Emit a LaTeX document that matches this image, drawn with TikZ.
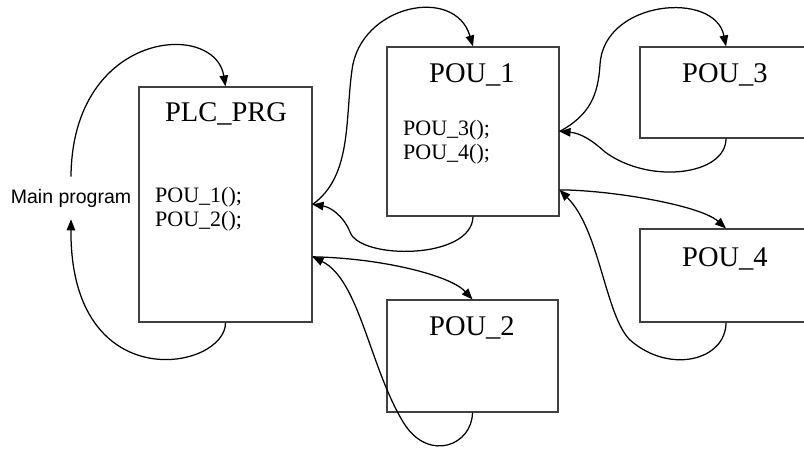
\documentclass[tikz,border=0pt]{standalone}
\usepackage{fontspec}
\setmainfont{Liberation Serif}
\setsansfont{Liberation Sans}
\usetikzlibrary{arrows.meta}

\begin{document}
\begin{tikzpicture}[x=1pt, y=-1pt,
    box/.style={draw=black!75, line width=1.1pt, inner sep=0pt},
    title/.style={font=\fontsize{28.5}{30}\selectfont, anchor=base},
    code/.style={font=\fontsize{22}{24}\selectfont, align=left, anchor=west, inner sep=0pt},
    arr/.style={-{Triangle[length=11pt, width=8.5pt]}, line width=1.25pt},
]
\useasboundingbox (0,0) rectangle (804,448);
\clip (0,0) rectangle (804,448);

% --- boxes ---
\node[box, minimum width=173pt, minimum height=235pt] (plc) at (225.5,204.5) {};
\node[box, minimum width=172pt, minimum height=169pt] (pou1) at (473,131.5) {};
\node[box, minimum width=171pt, minimum height=112pt] (pou2) at (472.5,356) {};
\node[box, minimum width=172pt, minimum height=91pt] (pou3) at (726,92.5) {};
\node[box, minimum width=172pt, minimum height=93pt] (pou4) at (726,275.5) {};

% --- texts ---
\node[title] (plctitle) at (226,121.5) {PLC\_PRG};
\node[title] (pou1title) at (472,82) {POU\_1};
\node[title] (pou2title) at (472,335) {POU\_2};
\node[title] (pou3title) at (725,82) {POU\_3};
\node[title] (pou4title) at (725,266) {POU\_4};
\node[code] (plccode) at (155,209) {POU\_1();\\POU\_2();};
\node[code] (pou1code) at (403,142) {POU\_3();\\POU\_4();};
\node[font=\sffamily\fontsize{19.5}{22}\selectfont, inner xsep=1pt, inner ysep=12pt] (main) at (71,198) {Main program};

% --- main program cycle ---
\draw[arr] (main.north) .. controls (72,30) and (215,20) .. (plc.north);
\draw[arr] (plc.south) .. controls (226,370) and (70,400) .. (main.south);

% --- PLC_PRG calls ---
\draw[arr] (plc.east) .. controls (352,176) and (345,120) .. (352,70)
    .. controls (360,5) and (455,-15) .. (pou1.north);
\draw[arr] (pou1.south) .. controls (472,260) and (360,260) .. (350,232)
    .. controls (343,215) and (330,207) .. (plc.east);
\draw[arr] (plc.-31) .. controls (380,258) and (450,275) .. (pou2.north);
\draw[arr] (pou2.south) .. controls (472,445) and (430,462) .. (405,425)
    .. controls (370,370) and (360,280) .. (plc.-31);

% --- POU_1 calls ---
\draw[arr] (pou1.east) .. controls (590,115) and (598,95) .. (600,65)
    .. controls (603,0) and (715,-10) .. (pou3.north);
\draw[arr] (pou3.south) .. controls (726,175) and (650,185) .. (605,152)
    .. controls (592,140) and (580,133) .. (pou1.east);
\draw[arr] (pou1.-34) .. controls (610,190) and (700,205) .. (pou4.north);
\draw[arr] (pou4.south) .. controls (726,360) and (670,375) .. (630,340)
    .. controls (605,315) and (600,230) .. (pou1.-34);
\end{tikzpicture}
\end{document}
